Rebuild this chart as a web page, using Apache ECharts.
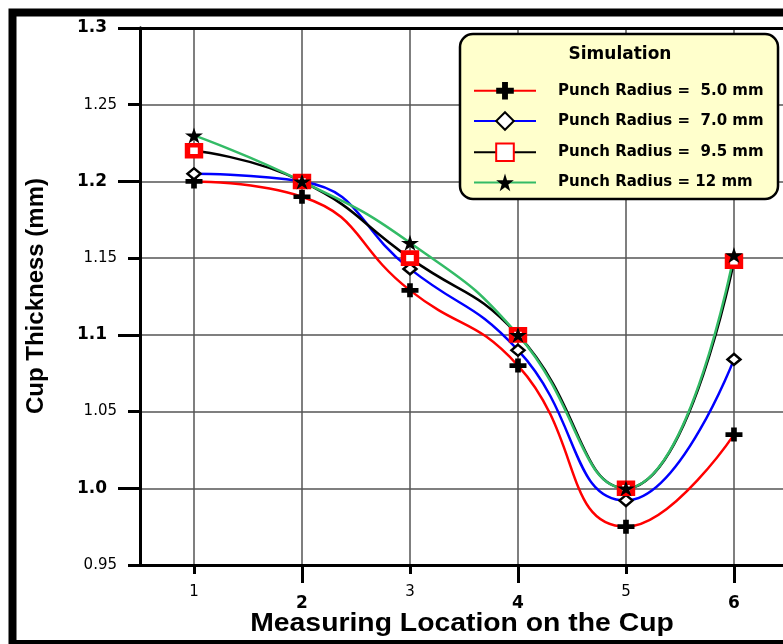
<!DOCTYPE html>
<html>
<head>
<meta charset="utf-8">
<script src="https://cdn.jsdelivr.net/npm/echarts@6.0.0/dist/echarts.min.js"></script>
<style>
  html, body { margin: 0; padding: 0; background: #fff; }
  #chart { width: 783px; height: 644px; }
</style>
</head>
<body>
<div id="chart"></div>
<script>
// measuring locations on the cup
var locations = [1, 2, 3, 4, 5, 6];

// cup thickness (mm) per punch radius
var r50 = [1.200, 1.190, 1.129, 1.080, 0.975, 1.035];
var r70 = [1.205, 1.200, 1.143, 1.090, 0.992, 1.084];
var r95 = [1.220, 1.200, 1.150, 1.100, 1.000, 1.148];
var r12 = [1.230, 1.200, 1.160, 1.100, 1.000, 1.152];

var seriesNames = [
    "Punch Radius =  5.0 mm",
    "Punch Radius =  7.0 mm",
    "Punch Radius =  9.5 mm",
    "Punch Radius = 12 mm"
];

// tick labels, big (bold) and small ones alternate
var xMajor = [2, 4, 6];
var xMinor = [1, 3, 5];
var yMajor = [1.0, 1.1, 1.2, 1.3];
var yMinor = [0.95, 1.05, 1.15, 1.25];

var FONT = "Arial, 'Liberation Sans', sans-serif";
var WIDE = "'DejaVu Sans', sans-serif";

var plusPath = "path://M4,0H8V4H12V8H8V12H4V8H0V4H4Z";
var starPath = "path://M50,0L61,35L98,35L68,57L79,91L50,70L21,91L32,57L2,35L39,35Z";

function pairs(values) {
    return locations.map(function (x, i) { return [x, values[i]]; });
}

var chart = echarts.init(document.getElementById("chart"));

// x range chosen so that one location step is 108 px
var X_MIN = 0.5, X_MAX = 6.454;

function xAxisOf(ticks, len, labelStyle, margin) {
    return {
        type: "value",
        position: "bottom",
        min: X_MIN,
        max: X_MAX,
        axisLine: { show: true, onZero: false, lineStyle: { color: "#000", width: 3 } },
        axisTick: { show: true, customValues: ticks, length: len, lineStyle: { color: "#000", width: 3 } },
        axisLabel: Object.assign({ customValues: ticks, margin: margin, color: "#000", fontFamily: WIDE }, labelStyle),
        splitLine: { show: true, customValues: ticks, lineStyle: { color: "#555", width: 1.5 } }
    };
}

function yAxisOf(ticks, len, labelStyle, margin, digits) {
    return {
        type: "value",
        position: "left",
        min: 0.95,
        max: 1.3,
        interval: 0.05,
        axisLine: { show: true, onZero: false, lineStyle: { color: "#000", width: 3 } },
        axisTick: { show: true, customValues: ticks, length: len, lineStyle: { color: "#000", width: 3 } },
        axisLabel: Object.assign({
            customValues: ticks, margin: margin, color: "#000", fontFamily: WIDE,
            formatter: function (v) { return Number(v).toFixed(digits); }
        }, labelStyle),
        splitLine: { show: true, lineStyle: { color: "#555", width: 1.5 } }
    };
}

function lineSeries(name, values, color, symbol, size, itemStyle) {
    return {
        name: name,
        type: "line",
        data: pairs(values),
        smooth: 0.5,
        symbol: symbol,
        symbolSize: size,
        showAllSymbol: true,
        lineStyle: { color: color, width: 2.5 },
        itemStyle: itemStyle,
        emphasis: { disabled: true },
        z: 3
    };
}

var option = {
    animation: false,
    backgroundColor: "#fff",
    grid: { left: 140, top: 28, width: 643, height: 537 },
    xAxis: [
        xAxisOf(xMinor, 9, { fontSize: 15 }, 20),
        xAxisOf(xMajor, 18, { fontSize: 17, fontWeight: "bold" }, 30),
        {
            // top frame line of the plot
            type: "value", position: "top", min: X_MIN, max: X_MAX,
            axisLine: { show: true, onZero: false, lineStyle: { color: "#000", width: 3 } },
            axisTick: { show: false }, axisLabel: { show: false }, splitLine: { show: false }
        }
    ],
    yAxis: [
        yAxisOf(yMinor, 12, { fontSize: 15 }, 23, 2),
        yAxisOf(yMajor, 22, { fontSize: 17, fontWeight: "bold" }, 33, 1)
    ],
    legend: {
        orient: "vertical",
        left: 473,
        top: 82,
        itemWidth: 62,
        itemHeight: 22,
        itemGap: 11.6,
        padding: 0,
        z: 10,
        data: seriesNames,
        textStyle: { fontFamily: WIDE, fontSize: 15, fontWeight: "bold", color: "#000", padding: [0, 0, 0, 17] }
    },
    graphic: [
        {
            type: "rect", z: 5,
            shape: { x: 12.5, y: 12.5, width: 800, height: 631.5 },
            style: { fill: null, stroke: "#000", lineWidth: 8 }
        },
        {
            type: "rect", z: 6,
            shape: { x: 460, y: 34, width: 318, height: 165, r: 13 },
            style: { fill: "#ffffcc", stroke: "#000", lineWidth: 2.5 }
        },
        {
            type: "text", z: 7, x: 620, y: 55,
            style: { text: "Simulation", fill: "#000", font: "bold 17px " + WIDE, textAlign: "center", textVerticalAlign: "middle" }
        },
        {
            type: "text", z: 7, x: 462, y: 624, scaleX: 1.09,
            style: { text: "Measuring Location on the Cup", fill: "#000", font: "bold 26px " + FONT, textAlign: "center", textVerticalAlign: "middle" }
        },
        {
            type: "text", z: 7, x: 36, y: 296, rotation: Math.PI / 2,
            style: { text: "Cup Thickness (mm)", fill: "#000", font: "bold 24px " + FONT, textAlign: "center", textVerticalAlign: "middle" }
        }
    ],
    series: [
        lineSeries(seriesNames[0], r50, "#ff0000", plusPath, [17, 14], { color: "#000" }),
        lineSeries(seriesNames[1], r70, "#0000ff", "diamond", [13, 11], { color: "#fff", borderColor: "#000", borderWidth: 2.5 }),
        lineSeries(seriesNames[2], r95, "#000000", "rect", [13, 11], { color: "#fff", borderColor: "#ff0000", borderWidth: 5 }),
        lineSeries(seriesNames[3], r12, "#33bb66", starPath, [18, 16], { color: "#000" })
    ]
};

chart.setOption(option);
</script>
</body>
</html>
